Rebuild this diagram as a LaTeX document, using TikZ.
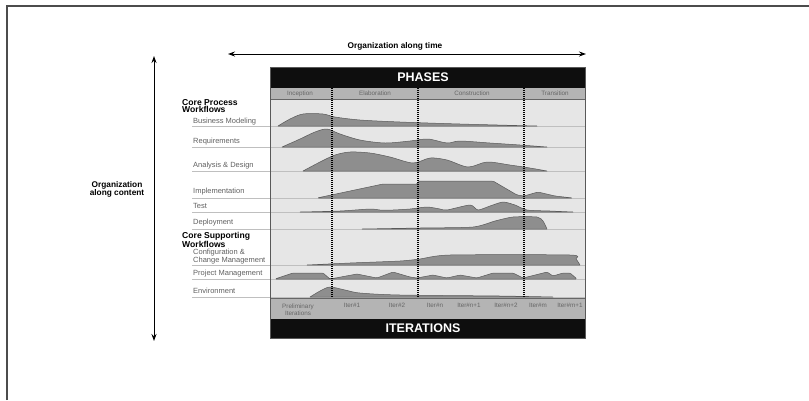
\documentclass[tikz,border=0pt]{standalone}
\usepackage{fontspec}
\setmainfont{Liberation Sans}
\usetikzlibrary{arrows.meta}
\definecolor{humpfill}{HTML}{8E8E8E}
\definecolor{humpline}{HTML}{5A5A5A}
\definecolor{chartbg}{HTML}{E6E6E6}
\definecolor{rowgray}{HTML}{B4B4B4}
\definecolor{labelgray}{HTML}{606060}
\definecolor{barblack}{HTML}{0E0E0E}
\tikzset{
  wflabel/.style={anchor=west, inner sep=0pt, align=left, font=\fontsize{7.5}{8}\selectfont, text=labelgray},
  heading/.style={anchor=west, inner sep=0pt, align=left, font=\fontsize{8.6}{7}\selectfont\bfseries},
  hump/.style={fill=humpfill, draw=humpline, line width=0.5pt, line join=round},
  wfbase/.style={draw=gray!50, line width=0.7pt},
  phasediv/.style={draw=black, line width=1.3pt, dash pattern=on 1pt off 1pt},
  smalllabel/.style={inner sep=0pt, align=center, font=\fontsize{6.3}{7.5}\selectfont, text=black!60},
  bartext/.style={inner sep=0pt, font=\fontsize{12.5}{13}\selectfont\bfseries, text=white},
  axislabel/.style={inner sep=0pt, align=center, font=\fontsize{8.3}{8.5}\selectfont\bfseries},
  axisarrow/.style={{Stealth[length=7pt,width=5pt]}-{Stealth[length=7pt,width=5pt]}, line width=1pt}
}
\begin{document}
\begin{tikzpicture}[x=1pt,y=-1pt]
\useasboundingbox (0,0) rectangle (809,400);
% outer frame
\draw[line width=1.2pt, black!70] (7,400) -- (7,6) -- (809,6);

% axes
\coordinate (ta) at (228,54);
\coordinate (tb) at (586,54);
\draw[axisarrow] (ta) -- (tb);
\node[axislabel] (tlab) at (395,46.5) {Organization along time};
\coordinate (ca) at (154,56);
\coordinate (cb) at (154,341);
\draw[axisarrow] (ca) -- (cb);
\node[axislabel] (clab) at (117,189.5) {Organization\\along content};

% chart background
\fill[chartbg] (270,99) rectangle (585,298);

% headings
\node[heading] (hcore) at (182,106) {Core Process\\Workflows};
\node[heading] (hsupp) at (182,240) {Core Supporting\\Workflows};

% workflow labels and baselines
\node[wflabel] (lbm) at (193,121.5) {Business Modeling};
\node[wflabel] (lrq) at (193,142) {Requirements};
\node[wflabel] (lad) at (193,166) {Analysis \& Design};
\node[wflabel] (lim) at (193,192) {Implementation};
\node[wflabel] (lte) at (193,205.5) {Test};
\node[wflabel] (lde) at (193,222.5) {Deployment};
\node[wflabel] (lcc) at (193,257) {Configuration \&\\Change Management};
\node[wflabel] (lpm) at (193,274) {Project Management};
\node[wflabel] (len) at (193,290.5) {Environment};
\foreach \yy in {126,147,171,198,212,229,265,279,297}
  \draw[wfbase] (192,\yy) -- (585,\yy);

% humps
\draw[hump] plot[smooth, tension=0.5] coordinates {(278,126) (290,119) (303,114) (323,114) (335,117) (360,120) (400,122) (460,124) (537,126)} -- cycle;
\draw[hump] plot[smooth, tension=0.5] coordinates {(282,147) (300,139) (315,132) (327,129) (340,134) (360,140) (385,143) (410,141) (428,139) (447,143) (460,141) (490,143) (520,145) (547,147)} -- cycle;
\draw[hump] plot[smooth, tension=0.5] coordinates {(303,171) (320,162) (335,155) (350,152) (370,153) (390,157) (413,163) (430,158) (447,160) (468,167) (487,162) (510,165) (530,168) (547,171)} -- cycle;
\draw[hump, rounded corners=1.5pt] (317,198) -- (383,184) -- (418,184) -- (418,181) -- (493,181) -- (505,188) -- (517,195) -- (524,196) -- (538,192) -- (555,196) -- (573,198) -- cycle;
\draw[hump] plot[smooth, tension=0.4] coordinates {(300,212) (340,211) (370,209) (380,210) (393,210) (410,209) (427,207) (440,209) (447,210) (470,205) (478,210) (490,206) (503,202) (515,205) (527,210) (550,211) (573,212)} -- cycle;
\draw[hump] plot[smooth, tension=0.4] coordinates {(362,229) (420,228) (473,227) (495,221) (513,217) (537,217) (543,221) (547,229)} -- cycle;
\draw[hump] plot[smooth, tension=0.4] coordinates {(307,265) (350,263) (400,261) (420,259) (450,255) (570,255) (576,259) (580,265)} -- cycle;
\draw[hump, rounded corners=1.2pt] (275,279) -- (293,273) -- (323,273) -- (330,279) -- (357,274) -- (377,278) -- (393,272) -- (410,277) -- (417,278) -- (433,275) -- (447,278) -- (460,275) -- (477,278) -- (493,273) -- (513,273) -- (523,278) -- (547,272) -- (553,276) -- (563,273) -- (570,273) -- (577,279) -- cycle;
\draw[hump] plot[smooth, tension=0.5] coordinates {(310,297) (320,291) (330,287) (345,290) (360,293) (400,295) (500,296) (553,297)} -- cycle;

% header rows and bars
\fill[rowgray] (270,88) rectangle (585,99);
\draw[black!60, line width=0.8pt] (270,99) -- (585,99);
\fill[rowgray] (270,298) rectangle (585,319);
\draw[black!60, line width=0.8pt] (270,298) -- (585,298);
\fill[barblack] (270,67) rectangle (585,88);
\fill[barblack] (270,319) rectangle (585,338);
\node[bartext] (phases) at (423,77.5) {PHASES};
\node[bartext] (iters) at (423,328.5) {ITERATIONS};

% phase dividers
\foreach \xx in {332,418,524}
  \draw[phasediv] (\xx,88) -- (\xx,298);

% phase names
\node[smalllabel] (pin) at (300,93.5) {Inception};
\node[smalllabel] (pel) at (375,93.5) {Elaboration};
\node[smalllabel] (pco) at (472,93.5) {Construction};
\node[smalllabel] (ptr) at (555,93.5) {Transition};

% iteration names
\node[smalllabel] (ipre) at (298,309.5) {Preliminary\\Iterations};
\node[smalllabel] (i1) at (352,305) {Iter\#1};
\node[smalllabel] (i2) at (397,305) {Iter\#2};
\node[smalllabel] (in) at (435,305) {Iter\#n};
\node[smalllabel] (in1) at (469,305) {Iter\#n+1};
\node[smalllabel] (in2) at (506,305) {Iter\#n+2};
\node[smalllabel] (im) at (538,305) {Iter\#m};
\node[smalllabel] (im1) at (570,305) {Iter\#m+1};

% chart border
\draw[black!65, line width=1pt] (270,67) rectangle (585,338);
\end{tikzpicture}
\end{document}
